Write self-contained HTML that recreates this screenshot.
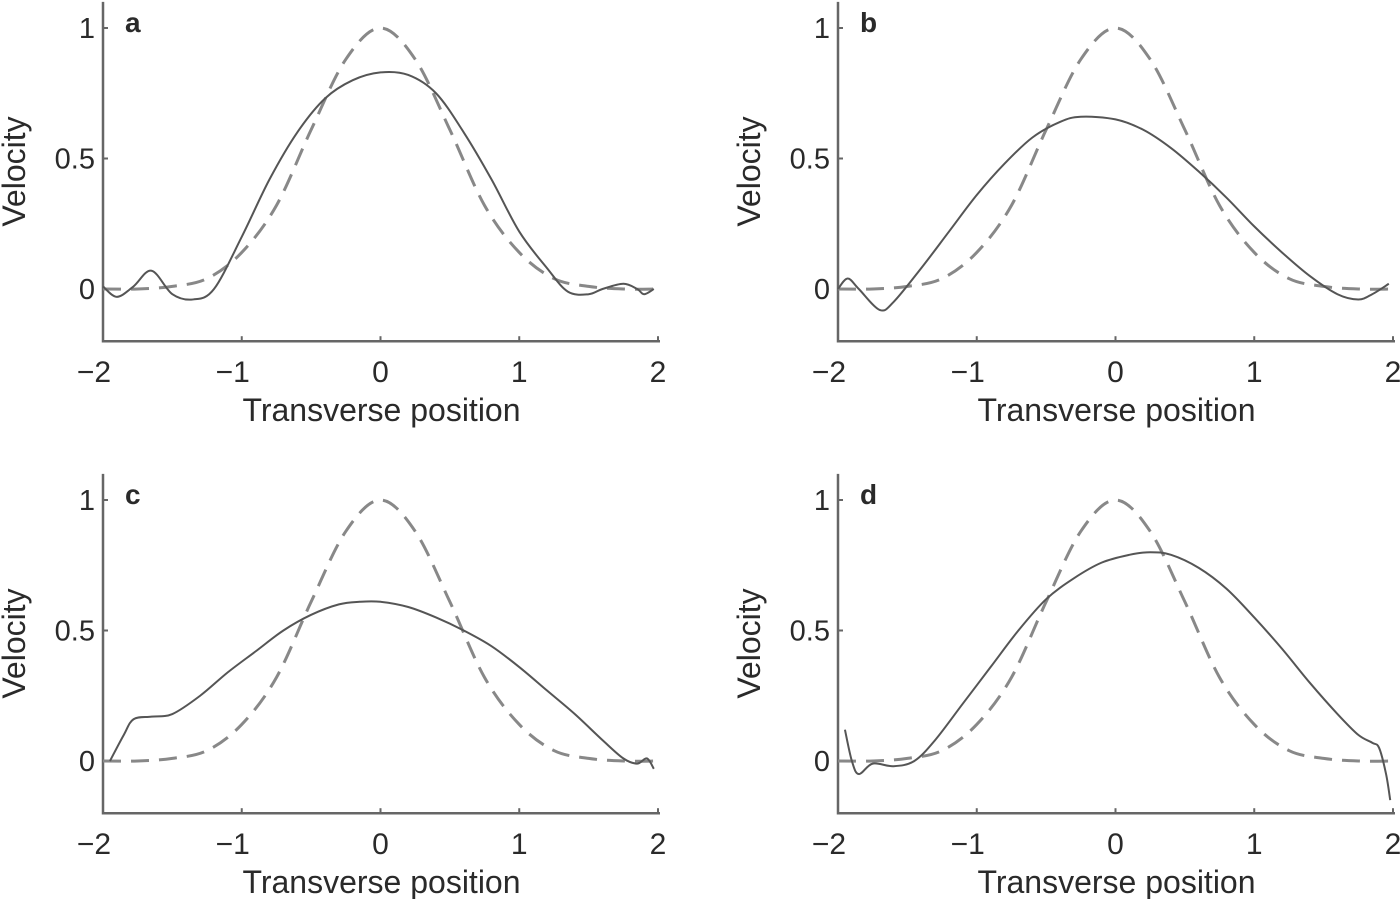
<!DOCTYPE html>
<html><head><meta charset="utf-8"><style>
html,body{margin:0;padding:0;background:#fff;}
svg text{font-family:"Liberation Sans",sans-serif;fill:#2a2a2a;}
</style></head><body>
<svg id="fig" width="1400" height="899" viewBox="0 0 1400 899" xmlns="http://www.w3.org/2000/svg"></svg>
<script>
const xTicks=[-2,-1,0,1,2];
const yTicks=[0,0.5,1];
const yTickLabels=["0","0.5","1"];
const dashX=[-2,-1.75,-1.5,-1.25,-1,-0.75,-0.5,-0.25,0,0.25,0.5,0.75,1,1.25,1.5,1.75,2];
const dashY=[0,0,0.01,0.04,0.14,0.32,0.61,0.88,1,0.88,0.61,0.32,0.14,0.04,0.01,0,0];
const aX=[-2,-1.9,-1.78,-1.65,-1.5,-1.35,-1.2,-1.0,-0.8,-0.6,-0.4,-0.2,0,0.2,0.4,0.6,0.8,1.0,1.2,1.35,1.5,1.6,1.75,1.85,1.9,1.97];
const aY=[0.01,-0.03,0.01,0.07,-0.02,-0.04,0.0,0.2,0.42,0.6,0.73,0.8,0.83,0.82,0.75,0.6,0.42,0.22,0.08,-0.01,-0.02,0.0,0.02,0.0,-0.02,0.0];
const bX=[-2,-1.93,-1.85,-1.7,-1.6,-1.4,-1.2,-1.0,-0.8,-0.6,-0.4,-0.25,0,0.2,0.4,0.6,0.8,1.0,1.2,1.4,1.6,1.75,1.85,1.97];
const bY=[0.0,0.04,0.0,-0.08,-0.05,0.08,0.22,0.36,0.48,0.58,0.64,0.66,0.65,0.61,0.54,0.45,0.35,0.24,0.14,0.05,-0.02,-0.04,-0.02,0.02];
const cX=[-1.95,-1.85,-1.78,-1.65,-1.5,-1.3,-1.1,-0.9,-0.7,-0.5,-0.3,-0.15,0,0.2,0.4,0.6,0.8,1.0,1.2,1.4,1.6,1.75,1.85,1.92,1.97];
const cY=[0.0,0.1,0.16,0.17,0.18,0.25,0.34,0.42,0.5,0.56,0.6,0.61,0.61,0.59,0.55,0.5,0.44,0.36,0.27,0.18,0.08,0.01,-0.01,0.01,-0.03];
const dX=[-1.95,-1.9,-1.85,-1.75,-1.6,-1.45,-1.3,-1.1,-0.9,-0.7,-0.5,-0.3,-0.1,0.1,0.25,0.4,0.6,0.8,1.0,1.2,1.4,1.6,1.75,1.85,1.9,1.95,1.98];
const dY=[0.12,0.0,-0.05,-0.01,-0.02,0.0,0.08,0.22,0.36,0.5,0.62,0.7,0.76,0.79,0.8,0.79,0.74,0.66,0.55,0.43,0.3,0.18,0.1,0.07,0.05,-0.05,-0.15];
const panelLetters=["a","b","c","d"];
const panels=[{l:103,r:658,y0:289,y1:28,X:aX,Y:aY},{l:838,r:1393,y0:289,y1:28,X:bX,Y:bY},{l:103,r:658,y0:761,y1:500,X:cX,Y:cY},{l:838,r:1393,y0:761,y1:500,X:dX,Y:dY}];
const NS="http://www.w3.org/2000/svg";
const svg=document.getElementById('fig');
function mk(t,a,p){const e=document.createElementNS(NS,t);for(const k in a)e.setAttribute(k,a[k]);(p||svg).appendChild(e);return e;}
function spline(pts){let d="M"+pts[0][0]+","+pts[0][1];for(let i=0;i<pts.length-1;i++){const p0=pts[Math.max(i-1,0)],p1=pts[i],p2=pts[i+1],p3=pts[Math.min(i+2,pts.length-1)];const c1=[p1[0]+(p2[0]-p0[0])/6,p1[1]+(p2[1]-p0[1])/6],c2=[p2[0]-(p3[0]-p1[0])/6,p2[1]-(p3[1]-p1[1])/6];d+=" C"+c1[0]+","+c1[1]+" "+c2[0]+","+c2[1]+" "+p2[0]+","+p2[1];}return d;}
panels.forEach((P,i)=>{
  const g=mk('g',{});
  
  
  const sx=v=>P.l+(v+2)/4*(P.r-P.l);
  const sy=v=>P.y0-v*(P.y0-P.y1);
  const top=sy(1.1),bot=sy(-0.2);
  const ax=mk('path',{d:`M${P.l},${top} L${P.l},${bot} L${P.r+2},${bot}`,fill:'none',stroke:'#666','stroke-width':2.5},g);
  
  
  xTicks.forEach(t=>{
    mk('line',{x1:sx(t),x2:sx(t),y1:bot,y2:bot-5,stroke:'#666','stroke-width':2},g);
    const tx=mk('text',{x:sx(t)-(t<0?9:0),y:bot+41,'font-size':30,'text-anchor':'middle'},g);
    tx.textContent=t<0?"\u2212"+Math.abs(t):String(t);
    
    
  });
  yTicks.forEach((t,j)=>{
    mk('line',{x1:P.l,x2:P.l+5,y1:sy(t),y2:sy(t),stroke:'#666','stroke-width':2},g);
    const tx=mk('text',{x:P.l-8,y:sy(t)+10,'font-size':29,'text-anchor':'end'},g);
    tx.textContent=yTickLabels[j];
    
    
  });
  const xl=mk('text',{x:(P.l+P.r)/2+1,y:bot+80,'font-size':32,'text-anchor':'middle'},g);
  xl.textContent="Transverse position";
  
  
  const ycy=(P.y1+P.y0)/2+13;
  const yl=mk('text',{x:P.l-78,y:ycy,'font-size':32,'text-anchor':'middle',transform:`rotate(-90 ${P.l-78} ${ycy})`},g);
  yl.textContent="Velocity";
  
  
  const lt=mk('text',{x:P.l+22,y:P.y1+4,'font-size':28,'font-weight':'bold'},g);
  lt.textContent=panelLetters[i];
  
  
  const dp=mk('path',{d:spline(dashX.map((x,k)=>[sx(x),sy(dashY[k])])),fill:'none',stroke:'#888','stroke-width':3,'stroke-dasharray':'18,10'},g);
  
  
  const sp=mk('path',{d:spline(P.X.map((x,k)=>[sx(x),sy(P.Y[k])])),fill:'none',stroke:'#555','stroke-width':2},g);
  
  
});
</script>
</body></html>
